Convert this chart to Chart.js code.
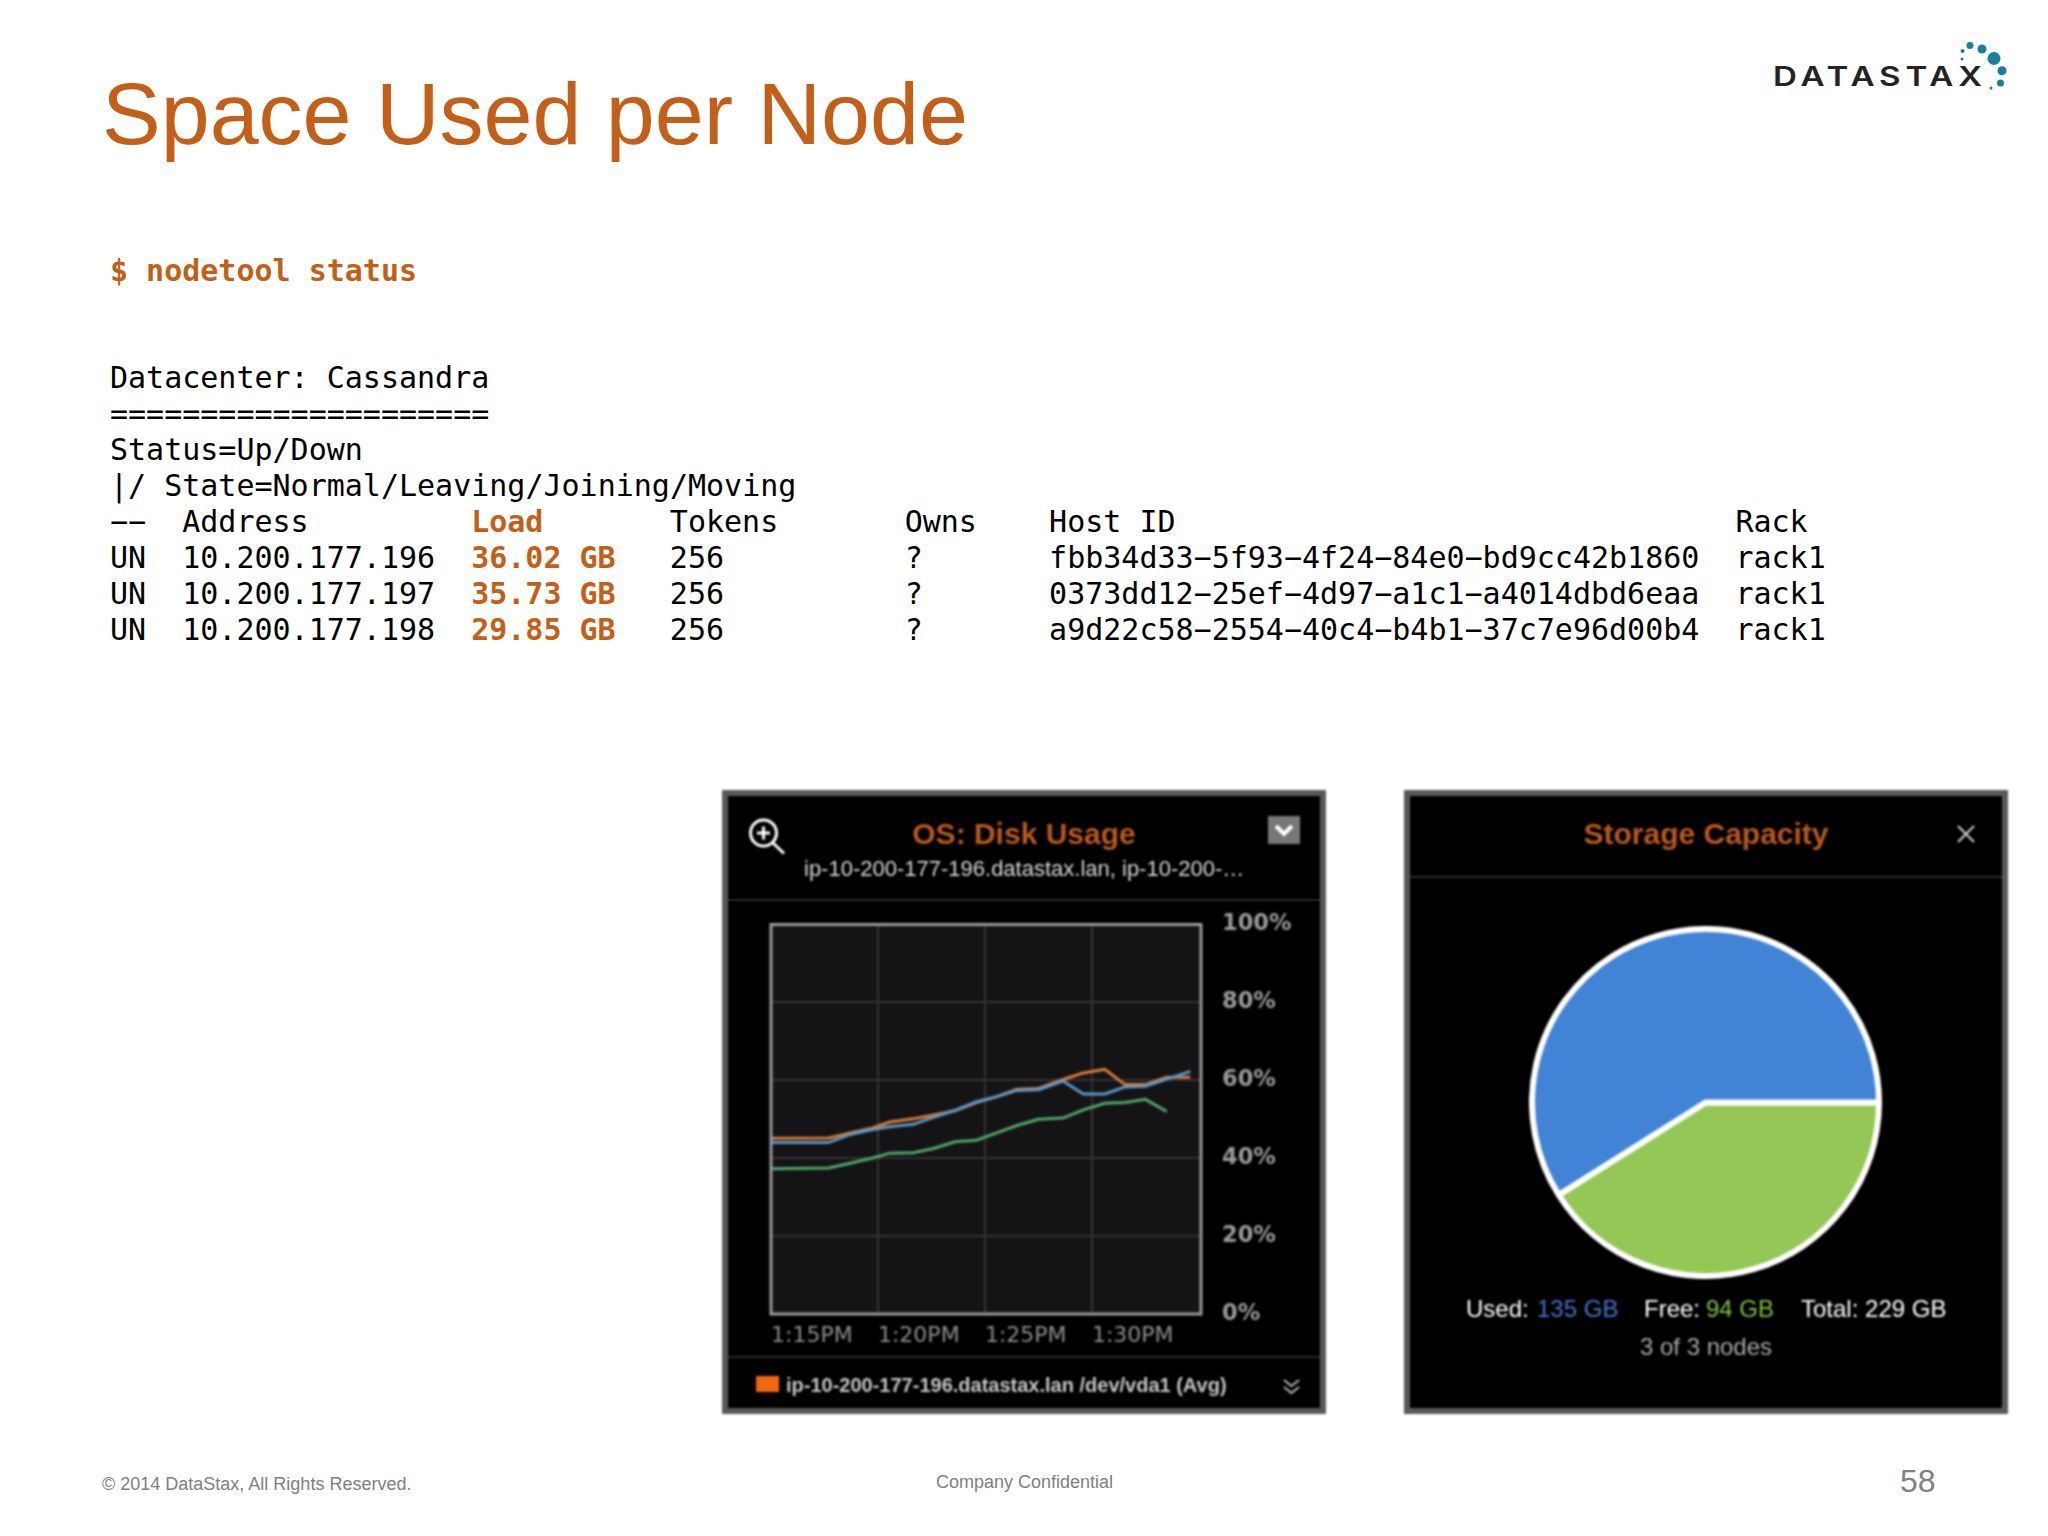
<!DOCTYPE html>
<html>
<head>
<meta charset="utf-8">
<title>Space Used per Node</title>
<script src="https://cdn.jsdelivr.net/npm/chart.js@4"></script>
<style>
  html, body { margin: 0; background: #fff; }
  #page { position: relative; width: 2048px; height: 1536px; overflow: hidden; }
  svg.layer { position: absolute; left: 0; top: 0; width: 2048px; height: 1536px; }
  #shots { position: absolute; left: 0; top: 0; width: 2048px; height: 1536px; filter: blur(0.8px); }
  .panel { position: absolute; top: 790px; height: 612px; background: #000; border: 6px solid #59595d; }
  #panelDisk { left: 722px; width: 592px; }
  #panelStore { left: 1404px; width: 592px; }
  .sep { position: absolute; height: 2px; background: #2a2a2c; }
  #diskBox { position: absolute; left: 740px; top: 890px; width: 580px; height: 466px; }
  #pieBox { position: absolute; left: 1529px; top: 925.5px; width: 353px; height: 353px; }
</style>
</head>
<body>
<div id="page">
  <svg class="layer" id="pageText"></svg>
  <div id="shots">
    <div class="panel" id="panelDisk"></div>
    <div class="panel" id="panelStore"></div>
    <div class="sep" style="left:728px;width:592px;top:899px"></div>
    <div class="sep" style="left:728px;width:592px;top:1356px"></div>
    <div class="sep" style="left:1410px;width:592px;top:876px"></div>
    <div id="diskBox"><canvas id="chartDisk"></canvas></div>
    <div id="pieBox"><canvas id="chartPie"></canvas></div>
    <svg class="layer" id="shotText"></svg>
  </div>
</div>

<script>
/* nodetool output */
const statuses  = ['UN', 'UN', 'UN'];
const addresses = ['10.200.177.196', '10.200.177.197', '10.200.177.198'];
const loads     = ['36.02 GB', '35.73 GB', '29.85 GB'];
const tokens    = ['256', '256', '256'];
const owns      = ['?', '?', '?'];
const hostIds   = ['fbb34d33−5f93−4f24−84e0−bd9cc42b1860', '0373dd12−25ef−4d97−a1c1−a4014dbd6eaa', 'a9d22c58−2554−40c4−b4b1−37c7e96d00b4'];
const racks     = ['rack1', 'rack1', 'rack1'];

/* OS: Disk Usage, minutes after 1:00PM and percent used */
const orangeMin = [15, 17.7, 18.7, 19.7, 20.55, 21.65, 22.6, 23.6, 24.6, 25.55, 26.5, 27.5, 28.65, 29.6, 30.6, 31.55, 32.5, 33.5, 34.6];
const orangePct = [45.1, 45.2, 46.5, 47.7, 49.3, 50.1, 51.1, 52.2, 54.3, 55.8, 57.7, 57.9, 60.2, 61.9, 62.8, 58.9, 58.9, 60.8, 60.8];
const bluePct   = [44.0, 44.0, 46.1, 47.3, 48.1, 48.7, 50.5, 52.3, 54.5, 55.8, 57.4, 57.6, 59.8, 56.5, 56.5, 58.3, 58.5, 60.3, 62.3];
const greenPct  = [37.3, 37.5, 38.7, 40.0, 41.3, 41.4, 42.5, 44.2, 44.6, 46.5, 48.4, 50.0, 50.3, 52.4, 54.1, 54.3, 55.1, 52.0];
const timeLabels = ['1:15PM', '1:20PM', '1:25PM', '1:30PM'];

/* Storage Capacity */
const pieLabels = ['Free', 'Used'];
const pieValues = [94, 135];
const totalGB = 229;
const nodesUp = 3, nodesAll = 3;

const ORANGE = '#c55f17';
const SANS = '"Liberation Sans", Arial, sans-serif';
const MONO = '"DejaVu Sans Mono", monospace';
const NS = 'http://www.w3.org/2000/svg';

function add(svg, tag, attrs, content) {
  const el = document.createElementNS(NS, tag);
  for (const k in attrs) el.setAttribute(k, attrs[k]);
  if (content !== undefined) el.textContent = content;
  svg.appendChild(el);
  return el;
}
function txt(svg, x, y, str, size, family, fill, extra) {
  return add(svg, 'text', { x, y, 'font-size': size, 'font-family': family, fill, ...extra }, str);
}

/* ── Slide text ── */
function drawPageText() {
  const s = document.getElementById('pageText');
  txt(s, 102, 144, 'Space Used per Node', 88, SANS, ORANGE);
  txt(s, 110, 281, '$ nodetool status', 30, MONO, ORANGE, { 'font-weight': 'bold' });

  const cw = 18.06, x0 = 110;
  const col = n => x0 + n * cw;
  const plain = (n, y, t) => txt(s, col(n), y, t, 30, MONO, '#000');
  plain(0, 388, 'Datacenter: Cassandra');
  plain(0, 424, '=====================');
  plain(0, 460, 'Status=Up/Down');
  plain(0, 496, '|/ State=Normal/Leaving/Joining/Moving');
  plain(0, 532, '−−');
  plain(4, 532, 'Address');
  txt(s, col(20), 532, 'Load', 30, MONO, ORANGE, { 'font-weight': 'bold' });
  plain(31, 532, 'Tokens');
  plain(44, 532, 'Owns');
  plain(52, 532, 'Host ID');
  plain(90, 532, 'Rack');
  addresses.forEach((a, i) => {
    const y = 568 + i * 36;
    plain(0, y, statuses[i]);
    plain(4, y, a);
    txt(s, col(20), y, loads[i], 30, MONO, ORANGE, { 'font-weight': 'bold' });
    plain(31, y, tokens[i]);
    plain(44, y, owns[i]);
    plain(52, y, hostIds[i]);
    plain(90, y, racks[i]);
  });

  txt(s, 102, 1490, '© 2014 DataStax, All Rights Reserved.', 18, SANS, '#808080');
  txt(s, 936, 1488, 'Company Confidential', 18, SANS, '#808080');
  txt(s, 1900, 1492, '58', 32, SANS, '#808080');

  // logo
  txt(s, 1773, 86, 'DATASTAX', 27, '"Inter", sans-serif', '#232325', { textLength: 214, lengthAdjust: 'spacingAndGlyphs', 'letter-spacing': 4, 'font-weight': 600 });
  [[1994, 58.5, 6.5], [1982, 49, 4.5], [1970, 45.5, 3.5], [2002, 70.7, 4.5], [2000.5, 83, 3.5], [1991, 88, 1.5], [1962.6, 51, 2], [1962, 59, 1.5]]
    .forEach(d => add(s, 'circle', { cx: d[0], cy: d[1], r: d[2], fill: '#1a7f9c' }));
}

/* ── Text and icons inside the two screenshots ── */
function drawShotText() {
  const s = document.getElementById('shotText');
  const mid = { 'text-anchor': 'middle' };
  const bold = { 'font-weight': 'bold' };

  // zoom icon
  add(s, 'circle', { cx: 763.5, cy: 833, r: 13, fill: 'none', stroke: '#fff', 'stroke-width': 3 });
  add(s, 'path', { d: 'M773 843L784 853.5M757 833H770M763.5 826.5V839.5', stroke: '#fff', 'stroke-width': 3, fill: 'none' });
  txt(s, 1024, 844, 'OS: Disk Usage', 30, SANS, '#b9591c', { ...mid, ...bold });
  txt(s, 804, 876, 'ip-10-200-177-196.datastax.lan, ip-10-200-…', 22, SANS, '#d3d7da');

  // dropdown button
  add(s, 'rect', { x: 1268, y: 816, width: 32, height: 28, fill: '#77777a' });
  add(s, 'path', { d: 'M1276 826L1284 834L1292 826', stroke: '#fff', 'stroke-width': 4, fill: 'none' });

  // legend row
  add(s, 'rect', { x: 756, y: 1376, width: 23, height: 16, fill: '#f26a0f' });
  txt(s, 786, 1392, 'ip-10-200-177-196.datastax.lan /dev/vda1 (Avg)', 20, SANS, '#c2c5c9', bold);
  add(s, 'path', { d: 'M1284 1380L1291.5 1386L1299 1380M1284 1387L1291.5 1393L1299 1387', stroke: '#b5b5b5', 'stroke-width': 2, fill: 'none' });

  // storage panel
  txt(s, 1706, 844, 'Storage Capacity', 30, SANS, '#b9591c', { ...mid, ...bold });
  add(s, 'path', { d: 'M1958 826L1974 842M1974 826L1958 842', stroke: '#c8c8c8', 'stroke-width': 2.2, fill: 'none' });

  const used = pieValues[pieLabels.indexOf('Used')];
  const free = pieValues[pieLabels.indexOf('Free')];
  txt(s, 1466, 1317, 'Used:', 24, SANS, '#fff');
  txt(s, 1537, 1317, used + ' GB', 24, SANS, '#3f78cf');
  txt(s, 1644, 1317, 'Free:', 24, SANS, '#fff');
  txt(s, 1706, 1317, free + ' GB', 24, SANS, '#7cc23c');
  txt(s, 1801, 1317, 'Total: ' + totalGB + ' GB', 24, SANS, '#fff');
  txt(s, 1706, 1355, nodesUp + ' of ' + nodesAll + ' nodes', 24, SANS, '#a6a8ab', mid);
}

/* ── Plot background and frame ── */
const plotFrame = {
  id: 'plotFrame',
  beforeDraw(chart) {
    const { ctx, chartArea: a } = chart;
    ctx.fillStyle = '#141416';
    ctx.fillRect(a.left, a.top, a.width, a.height);
  },
  afterDatasetsDraw(chart) {
    const { ctx, chartArea: a } = chart;
    ctx.save();
    ctx.strokeStyle = '#9a9a9c';
    ctx.lineWidth = 3;
    ctx.strokeRect(a.left, a.top, a.width, a.height);
    ctx.restore();
  },
};

function pairs(ys) { return ys.map((y, i) => ({ x: orangeMin[i], y })); }

function initChartDisk() {
  new Chart(document.getElementById('chartDisk'), {
    type: 'line',
    data: {
      datasets: [
        { label: 'ip-10-200-177-198', data: pairs(greenPct),  borderColor: '#4fa566', borderWidth: 3, pointRadius: 0, tension: 0 },
        { label: 'ip-10-200-177-197', data: pairs(bluePct),   borderColor: '#5a97c8', borderWidth: 3, pointRadius: 0, tension: 0 },
        { label: 'ip-10-200-177-196', data: pairs(orangePct), borderColor: '#d97c34', borderWidth: 3, pointRadius: 0, tension: 0 },
      ],
    },
    options: {
      responsive: true,
      maintainAspectRatio: false,
      animation: false,
      layout: { padding: { left: 31, top: 18, right: 0, bottom: 0 } },
      plugins: { legend: { display: false }, tooltip: { enabled: false } },
      scales: {
        x: {
          type: 'linear', min: 15, max: 35.1,
          afterFit: sc => { sc.height = 42; },
          afterBuildTicks: sc => { sc.ticks = sc.ticks.filter(t => t.value < 35); },
          border: { display: false },
          grid: { color: '#333336', lineWidth: 2, drawTicks: false },
          ticks: {
            stepSize: 5, align: 'start', maxRotation: 0, autoSkip: false, padding: 9,
            color: '#8c8c8e', font: { family: 'DejaVu Sans', size: 22 },
            callback: v => timeLabels[(v - 15) / 5] ?? '',
          },
        },
        y: {
          position: 'right', min: 0, max: 100,
          afterFit: sc => { sc.width = 119; },
          border: { display: false },
          grid: { color: '#333336', lineWidth: 2, drawTicks: false },
          ticks: {
            stepSize: 20, padding: 21,
            color: '#9a9a9c', font: { family: 'DejaVu Sans', size: 22.5, weight: 'bold' },
            callback: v => v + '%',
          },
        },
      },
    },
    plugins: [plotFrame],
  });
}

function initChartPie() {
  new Chart(document.getElementById('chartPie'), {
    type: 'pie',
    data: {
      labels: pieLabels,
      datasets: [{ data: pieValues, backgroundColor: ['#94c756', '#4183d5'], borderColor: '#fff', borderWidth: 6 }],
    },
    options: {
      responsive: true,
      maintainAspectRatio: false,
      animation: false,
      rotation: 90,
      layout: { padding: 0 },
      plugins: { legend: { display: false }, tooltip: { enabled: false } },
    },
  });
}

drawPageText();
drawShotText();
initChartDisk();
initChartPie();
</script>
</body>
</html>
